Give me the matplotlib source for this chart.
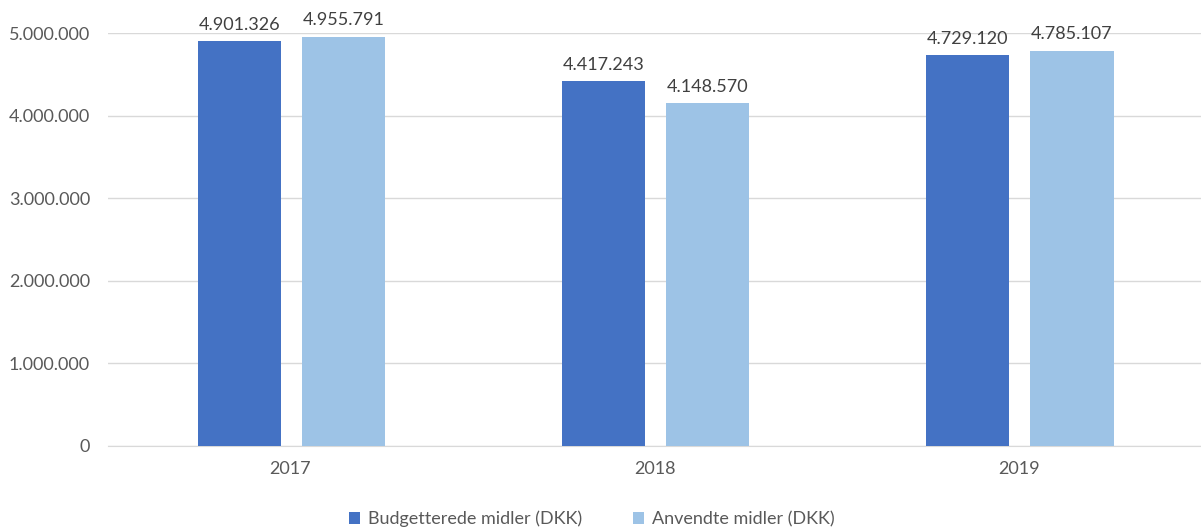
import matplotlib
matplotlib.use("Agg")
import matplotlib.pyplot as plt
import numpy as np
from matplotlib.ticker import FuncFormatter

years = ["2017", "2018", "2019"]
budget = [4901326, 4417243, 4729120]
spent = [4955791, 4148570, 4785107]
series_names = ["Budgetterede midler (DKK)", "Anvendte midler (DKK)"]
colors = ["#4472C4", "#9DC3E6"]

plt.rcParams['font.family'] = ['Lato', 'DejaVu Sans']

fig = plt.figure(figsize=(12.01, 5.31), dpi=100)
ax = fig.add_axes([108/1201, 85/531, 1 - 108/1201, (446-33)/531])

x = np.arange(len(years))
w = 0.228
off = 0.143

def fmt(v):
    return f"{int(v):,}".replace(",", ".")

for vals, o, c, name in [(budget, -off, colors[0], series_names[0]), (spent, off, colors[1], series_names[1])]:
    ax.bar(x + o + 0.003, vals, width=w, color=c, label=name, zorder=3)
    for xi, v in zip(x + o + 0.003, vals):
        ax.annotate(fmt(v), (xi, v), xytext=(0, 6), textcoords="offset points",
                    ha="center", va="bottom", fontsize=13, color="#404040", clip_on=False)

ax.set_xlim(-0.5, 2.5)
ax.set_ylim(0, 5000000)
ax.set_yticks(np.arange(0, 5000001, 1000000))
ax.yaxis.set_major_formatter(FuncFormatter(lambda v, p: fmt(v)))
ax.set_xticks(x)
ax.set_xticklabels(years)
ax.grid(axis="y", color="#D9D9D9", linewidth=1, zorder=0)
for s in ["top", "right", "left"]:
    ax.spines[s].set_visible(False)
ax.spines["bottom"].set_color("#D9D9D9")
ax.tick_params(axis="both", length=0, labelsize=13, labelcolor="#595959")
ax.tick_params(axis="y", pad=13)
ax.tick_params(axis="x", pad=11)

leg = fig.legend(loc="center", bbox_to_anchor=(592/1201, 1 - 519/531), ncol=2, frameon=False,
                 fontsize=13, handlelength=0.6, handleheight=0.6, handletextpad=0.45,
                 columnspacing=2.8, labelcolor="#595959")

fig.savefig("out.png", dpi=100)
